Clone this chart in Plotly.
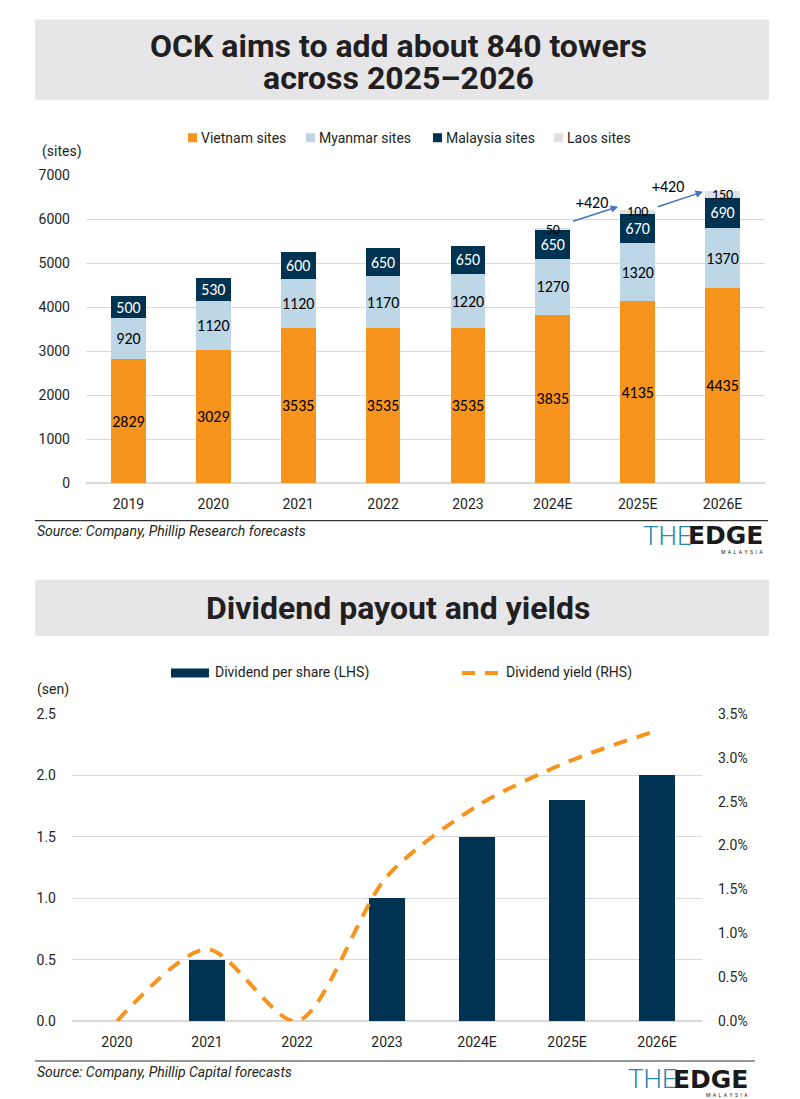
import plotly.graph_objects as go

W, H = 800, 1099

# ---------------- data ----------------
years_top = ["2019", "2020", "2021", "2022", "2023", "2024E", "2025E", "2026E"]
vietnam = [2829, 3029, 3535, 3535, 3535, 3835, 4135, 4435]
myanmar = [920, 1120, 1120, 1170, 1220, 1270, 1320, 1370]
malaysia = [500, 530, 600, 650, 650, 650, 670, 690]
laos = [0, 0, 0, 0, 0, 50, 100, 150]
growth_labels = ["+420", "+420"]

years_bot = ["2020", "2021", "2022", "2023", "2024E", "2025E", "2026E"]
dps = [0, 0.5, 0, 1.0, 1.5, 1.8, 2.0]
div_yield = [0.0, 0.0082, 0.0, 0.0165, 0.0245, 0.0295, 0.0331]

# ---------------- styles ----------------
ORANGE = "#F7941D"
LBLUE = "#BDD7E7"
NAVY = "#003352"
LGRAY = "#E0E0E0"
TXT = "#231F20"
GRID = "#D9D9D9"
AXF = "Roboto, sans-serif"
LBF = "Carlito, Lato, Open Sans, sans-serif"
TITLEF = "Roboto, sans-serif"

# the captured picture is slightly compressed vertically; compensate
SY_A, SY_B = 0.983, 8.6


def px_x(p):
    return p / W


def px_y(p):
    f = (p - SY_B) / SY_A
    return 1 - f / H


fig = go.Figure()


def lbl(vals):
    return [str(v) if v else "" for v in vals]


top_series = [
    ("Vietnam sites", vietnam, ORANGE, "black"),
    ("Myanmar sites", myanmar, LBLUE, "black"),
    ("Malaysia sites", malaysia, NAVY, "white"),
    ("Laos sites", laos, LGRAY, "black"),
]
for name, vals, col, tcol in top_series:
    fig.add_trace(go.Bar(
        x=years_top, y=vals, name=name, marker=dict(color=col, line=dict(width=0)),
        text=lbl(vals), textposition="inside", insidetextanchor="middle",
        constraintext="none", textangle=0,
        textfont=dict(family=LBF, size=(14 if name == "Laos sites" else 16), color=tcol),
        xaxis="x", yaxis="y", showlegend=False,
    ))

fig.add_trace(go.Bar(
    x=years_bot, y=dps, name="Dividend per share (LHS)",
    marker=dict(color=NAVY, line=dict(width=0)),
    xaxis="x2", yaxis="y2", showlegend=False,
))
fig.add_trace(go.Scatter(
    x=years_bot, y=div_yield, name="Dividend yield (RHS)", mode="lines",
    line=dict(color=ORANGE, width=4, dash="14px,10px", shape="spline", smoothing=0.8),
    xaxis="x2", yaxis="y3", showlegend=False,
))

axis_font = dict(family=AXF, size=14, color=TXT)

fig.update_layout(
    width=W, height=H, autosize=False,
    margin=dict(l=0, r=0, t=0, b=0),
    paper_bgcolor="white", plot_bgcolor="white",
    barmode="stack", bargap=0.59,
    xaxis=dict(domain=[px_x(86), px_x(765)], type="category", tickfont=axis_font,
               showgrid=False, showline=False, ticks="", anchor="y", ticklabelstandoff=11),
    yaxis=dict(domain=[px_y(482.7), px_y(175.7)], range=[0, 7000], dtick=1000,
               tickfont=axis_font, gridcolor=GRID, gridwidth=1, zeroline=True,
               zerolinecolor=GRID, showline=False, ticks="", anchor="x",
               ticklabelstandoff=15),
    xaxis2=dict(domain=[px_x(72), px_x(702)], type="category", tickfont=axis_font,
                showgrid=False, showline=False, ticks="", anchor="y2", ticklabelstandoff=11),
    yaxis2=dict(domain=[px_y(1019.3), px_y(712.7)], range=[0, 2.5], dtick=0.5,
                tickformat=".1f", tickfont=axis_font, gridcolor=GRID, zeroline=True,
                zerolinecolor=GRID, ticks="", anchor="x2", ticklabelstandoff=15),
    yaxis3=dict(domain=[px_y(1019.3), px_y(712.7)], range=[0, 0.035], dtick=0.005,
                tickformat=".1%", tickfont=axis_font, showgrid=False, zeroline=False,
                overlaying="y2", side="right", anchor="x2", ticks="",
                ticklabelstandoff=15),
)

shapes = [
    dict(type="rect", xref="paper", yref="paper", x0=px_x(35), x1=px_x(769),
         y0=px_y(100), y1=px_y(20), fillcolor="#E6E6E8", line=dict(width=0), layer="below"),
    dict(type="rect", xref="paper", yref="paper", x0=px_x(35), x1=px_x(769),
         y0=px_y(635), y1=px_y(579), fillcolor="#E6E6E8", line=dict(width=0), layer="below"),
    dict(type="line", xref="paper", yref="paper", x0=px_x(35), x1=px_x(768),
         y0=px_y(520), y1=px_y(520), line=dict(color="#333333", width=1.2)),
    dict(type="line", xref="paper", yref="paper", x0=px_x(35), x1=px_x(755),
         y0=px_y(1059), y1=px_y(1059), line=dict(color="#333333", width=1.2)),
]

ann = []
# --- manual legend, top chart ---
leg_x = [188, 306, 433, 554]
for (name, vals, col, tcol), lx in zip(top_series, leg_x):
    shapes.append(dict(type="rect", xref="paper", yref="paper", x0=px_x(lx),
                       x1=px_x(lx + 9), y0=px_y(142.5), y1=px_y(133.5),
                       fillcolor=col, line=dict(width=0)))
    ann.append(dict(text=name, xref="paper", yref="paper", x=px_x(lx + 11),
                    y=px_y(138), showarrow=False, xanchor="left", yanchor="middle",
                    font=dict(family=AXF, size=14, color=TXT)))
# --- manual legend, bottom chart ---
shapes.append(dict(type="rect", xref="paper", yref="paper", x0=px_x(171), x1=px_x(209),
                   y0=px_y(676.5), y1=px_y(667.5), fillcolor=NAVY, line=dict(width=0)))
ann.append(dict(text="Dividend per share (LHS)", xref="paper", yref="paper", x=px_x(213),
                y=px_y(671), showarrow=False, xanchor="left", yanchor="middle",
                font=dict(family=AXF, size=14, color=TXT)))
for a, b in [(462, 475), (485, 498)]:
    shapes.append(dict(type="line", xref="paper", yref="paper", x0=px_x(a), x1=px_x(b),
                       y0=px_y(672), y1=px_y(672), line=dict(color=ORANGE, width=4)))
ann.append(dict(text="Dividend yield (RHS)", xref="paper", yref="paper", x=px_x(504),
                y=px_y(671), showarrow=False, xanchor="left", yanchor="middle",
                font=dict(family=AXF, size=14, color=TXT)))

fig.update_layout(shapes=shapes)

# --- titles ---
for txt, yy in [("OCK aims to add about 840 towers", 47), ("across 2025\u20132026", 78),
                ("Dividend payout and yields", 607)]:
    ann.append(dict(text="<b>" + txt + "</b>", xref="paper", yref="paper", x=px_x(398),
                    y=px_y(yy), showarrow=False, xanchor="center", yanchor="middle",
                    font=dict(family=TITLEF, size=32, color=TXT)))

ann.append(dict(text="(sites)", xref="paper", yref="paper", x=px_x(40), y=px_y(152),
                showarrow=False, xanchor="left", yanchor="middle",
                font=dict(family=AXF, size=14, color=TXT)))
ann.append(dict(text="(sen)", xref="paper", yref="paper", x=px_x(35), y=px_y(688),
                showarrow=False, xanchor="left", yanchor="middle",
                font=dict(family=AXF, size=14, color=TXT)))
for i, src in enumerate(["Source: Company, Phillip Research forecasts",
                         "Source: Company, Phillip Capital forecasts"]):
    ann.append(dict(text="<i>" + src + "</i>", xref="paper", yref="paper", x=px_x(35),
                    y=px_y([530, 1070][i]), showarrow=False, xanchor="left",
                    yanchor="middle", font=dict(family=AXF, size=14, color=TXT)))
    ly = [535, 1077][i]
    lx0 = [641, 626][i]
    ann.append(dict(text="THE", xref="paper", yref="paper", x=px_x(lx0), y=px_y(ly),
                    showarrow=False, xanchor="left", yanchor="middle",
                    font=dict(family="Roboto", size=26, color="#2a86ad", weight=300)))
    ann.append(dict(text="EDGE", xref="paper", yref="paper", x=px_x(lx0 + 124),
                    y=px_y(ly), showarrow=False, xanchor="right", yanchor="middle",
                    font=dict(family="DejaVu Sans, Roboto", size=25, color="#1a1a1a",
                              weight=900)))
    ann.append(dict(text="M  A  L  A  Y  S  I  A", xref="paper", yref="paper",
                    x=px_x(lx0 + 124), y=px_y(ly + 16), showarrow=False, xanchor="right",
                    yanchor="middle", font=dict(family=AXF, size=5, color="#111111")))

# growth arrows (category index coordinates)
idx24 = years_top.index("2024E")
for k, g in enumerate(growth_labels):
    i0 = idx24 + k
    y0 = [5950, 6280][k]
    y1 = [6290, 6630][k]
    ann.append(dict(x=i0 + 1 - 0.23, y=y1, ax=i0 + 0.22, ay=y0, xref="x", yref="y",
                    axref="x", ayref="y", text="", showarrow=True, arrowhead=2,
                    arrowsize=1, arrowwidth=1.5, arrowcolor="#4472C4"))
    ann.append(dict(x=i0 + [0.46, 0.36][k], y=[6390, 6740][k], xref="x", yref="y", text=g,
                    showarrow=False, font=dict(family=LBF, size=16, color="black")))

fig.update_layout(annotations=ann)

fig.write_html("out.html", config={"displayModeBar": False},
               post_script="document.body.style.margin='0';")
